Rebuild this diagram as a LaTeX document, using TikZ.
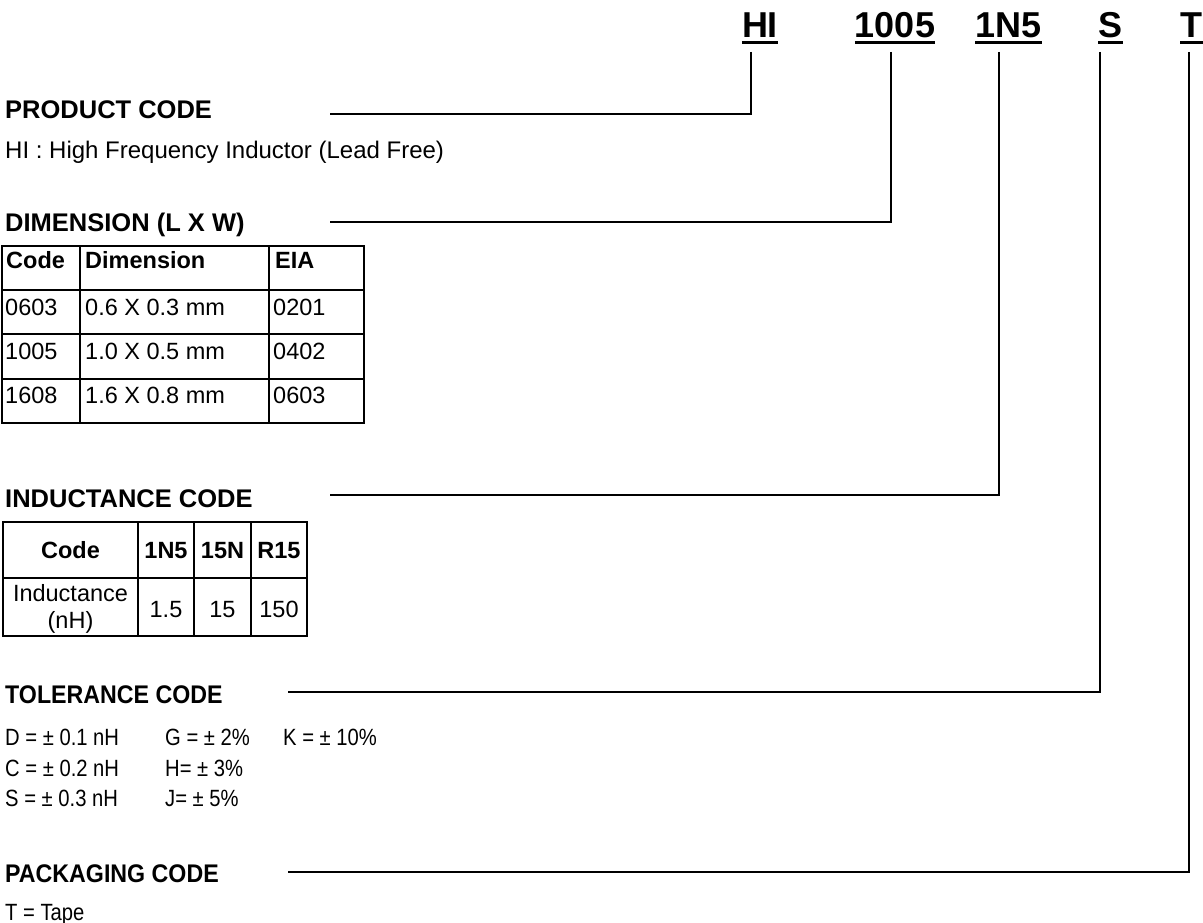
\documentclass[tikz,border=0pt]{standalone}
\usepackage{fontspec}
\setmainfont{Liberation Sans}
\newfontfamily\narrowsans[FakeStretch=0.86]{Liberation Sans}
\newfontfamily\narrowhead[FakeStretch=0.91]{Liberation Sans}
\usetikzlibrary{calc}

\begin{document}
\begin{tikzpicture}[
  x=1pt, y=-1pt,
  pn/.style={font=\fontsize{36}{40}\selectfont\bfseries, inner sep=0pt, anchor=base},
  hd/.style={font=\fontsize{25.5}{30}\selectfont\bfseries, inner sep=0pt, anchor=base west},
  hdn/.style={font=\narrowhead\fontsize{25.5}{30}\selectfont\bfseries, inner sep=0pt, anchor=base west},
  tx/.style={font=\fontsize{24}{28}\selectfont, inner sep=0pt, anchor=base west},
  txn/.style={font=\narrowsans\fontsize{23.5}{28}\selectfont, inner sep=0pt, anchor=base west},
  cl/.style={font=\fontsize{23.5}{27}\selectfont, inner sep=0pt, anchor=base west},
  clb/.style={cl, font=\fontsize{23.5}{27}\selectfont\bfseries},
  ln/.style={line width=2pt},
  ul/.style={line width=3pt},
  tb/.style={line width=2.5pt, line cap=rect}
]
  \useasboundingbox (0,0) rectangle (1203,923);

  % part number
  \node[pn] (hi)  at (760,38)    {HI};
  \node[pn] (dim) at (895,38)    {1005};
  \node[pn] (ind) at (1008.5,38) {1N5};
  \node[pn] (tol) at (1110.5,38) {S};
  \node[pn] (pkg) at (1191.5,38) {T};
  \foreach \n in {hi,dim,ind,tol,pkg}
    \draw[ul] ([yshift=-5pt]\n.base west) -- ([yshift=-5pt]\n.base east);

  % headings and texts
  \node[hd]  (hprod) at (5,119) {PRODUCT CODE};
  \node[tx]  (tprod) at (5,159) {HI : High Frequency Inductor (Lead Free)};
  \node[hd]  (hdim)  at (5,231) {DIMENSION (L X W)};
  \node[hd]  (hind)  at (5,507) {INDUCTANCE CODE};
  \node[hdn] (htol)  at (5,703) {TOLERANCE CODE};
  \node[hdn] (hpkg)  at (5,882) {PACKAGING CODE};
  \node[txn] (tpkg)  at (5,920) {T = Tape};

  % lead lines
  \foreach \x/\y/\s [count=\i] in {751/114/330, 891/222/330, 999/495/330, 1100/692/288, 1189/872/288} {
    \coordinate (top\i) at (\x,52);
    \coordinate (end\i) at (\s,\y);
    \draw[ln] (top\i) |- (end\i);
  }

  % dimension table
  \foreach \y in {246,290,334,379,423}
    \draw[tb] (2,\y) -- (364,\y);
  \foreach \x in {2,80,269,364}
    \draw[tb] (\x,246) -- (\x,423);
  \node[clb] (dc) at (6,269)   {Code};
  \node[clb] (dd) at (85,269)  {Dimension};
  \node[clb] (de) at (275,269) {EIA};
  \foreach \a/\b/\c [count=\r] in {0603/0.6 X 0.3 mm/0201, 1005/1.0 X 0.5 mm/0402, 1608/1.6 X 0.8 mm/0603} {
    \node[cl] (dc\r) at (5,271+44*\r)   {\a};
    \node[cl] (dd\r) at (85,271+44*\r)  {\b};
    \node[cl] (de\r) at (273,271+44*\r) {\c};
  }

  % inductance table
  \foreach \y in {522,578,636}
    \draw[ln, line cap=rect] (3,\y) -- (307,\y);
  \foreach \x in {3,138,194,251,307}
    \draw[ln, line cap=rect] (\x,522) -- (\x,636);
  \node[clb, anchor=base] (ic)  at (70.5,558)  {Code};
  \node[clb, anchor=base] (ia)  at (166,558)   {1N5};
  \node[clb, anchor=base] (ib)  at (222.5,558) {15N};
  \node[clb, anchor=base] (icc) at (279,558)   {R15};
  \node[cl, anchor=center, align=center] (iv) at (70.5,608.5) {Inductance\\(nH)};
  \node[cl, anchor=base] (iva) at (166,617)   {1.5};
  \node[cl, anchor=base] (ivb) at (222.5,617) {15};
  \node[cl, anchor=base] (ivc) at (279,617)   {150};

  % tolerance values
  \node[txn] (t1) at (5,745)   {D = ± 0.1 nH};
  \node[txn] (t2) at (165,745) {G = ± 2\%};
  \node[txn] (t3) at (283,745) {K = ± 10\%};
  \node[txn] (t4) at (5,776)   {C = ± 0.2 nH};
  \node[txn] (t5) at (165,776) {H= ± 3\%};
  \node[txn] (t6) at (5,806)   {S = ± 0.3 nH};
  \node[txn] (t7) at (165,806) {J= ± 5\%};
\end{tikzpicture}
\end{document}
